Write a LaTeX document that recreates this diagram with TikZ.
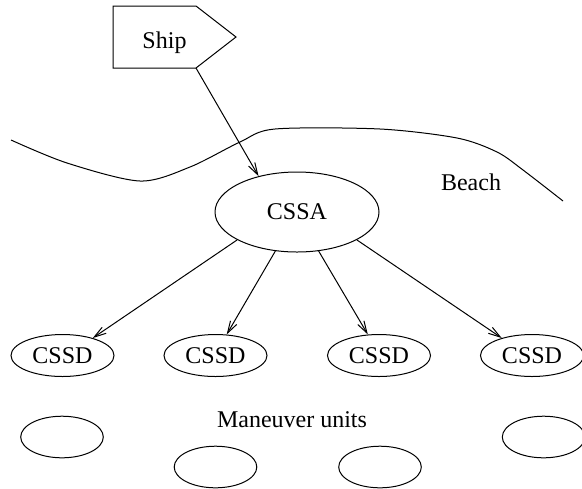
\documentclass[tikz,border=0pt]{standalone}
\usepackage{fontspec}
\setmainfont{Liberation Serif}
\usetikzlibrary{shapes.geometric,arrows.meta}
\begin{document}
    \begin{tikzpicture}[x=0.5pt, y=-0.5pt, line width=0.5pt, font=\fontsize{12}{14}\selectfont,
        bigunit/.style={draw, ellipse, inner sep=0pt, minimum width=82pt, minimum height=40pt},
        cssdunit/.style={draw, ellipse, inner sep=0pt, minimum width=51.5pt, minimum height=21pt},
        maneuver/.style={draw, ellipse, inner sep=0pt, minimum width=41.3pt, minimum height=20.8pt},
        link/.style={-{Straight Barb[length=6pt,width=3.6pt]}}]
        \useasboundingbox (0,0) rectangle (582,488);
        \draw (113,6) -- (196,6) -- (236,37) -- (196,68) -- (113,68) -- cycle;
        \coordinate (shipcorner) at (196,68);
        \node[anchor=base] (ship) at (164.5,48.3) {Ship};
        \draw plot[smooth] coordinates {(11,140) (67,163) (140,181) (190,167) (240,142) (275,129) (380,129) (457,138) (497,152) (523,170) (563,201)};
        \node[anchor=base] (beach) at (471,190) {Beach};
        \node[bigunit] (cssa) at (297,212) {CSSA};
        \node[cssdunit] (d1) at (62.5,355.5) {CSSD};
        \node[cssdunit] (d2) at (215.5,355.5) {CSSD};
        \node[cssdunit] (d3) at (379,355.5) {CSSD};
        \node[cssdunit] (d4) at (532,355.5) {CSSD};
        \node[anchor=base] (units) at (292,427) {Maneuver units};
        \node[maneuver] (m1) at (62,437) {};
        \node[maneuver] (m2) at (215.5,467) {};
        \node[maneuver] (m3) at (380,467) {};
        \node[maneuver] (m4) at (543.6,437) {};
        \draw[link] (shipcorner) -- (cssa.137);
        \draw[link] (cssa.205) -- (d1.30);
        \draw[link] (cssa.241) -- (d2.62);
        \draw[link] (cssa.299) -- (d3.118);
        \draw[link] (cssa.335) -- (d4.150);
    \end{tikzpicture}
\end{document}
